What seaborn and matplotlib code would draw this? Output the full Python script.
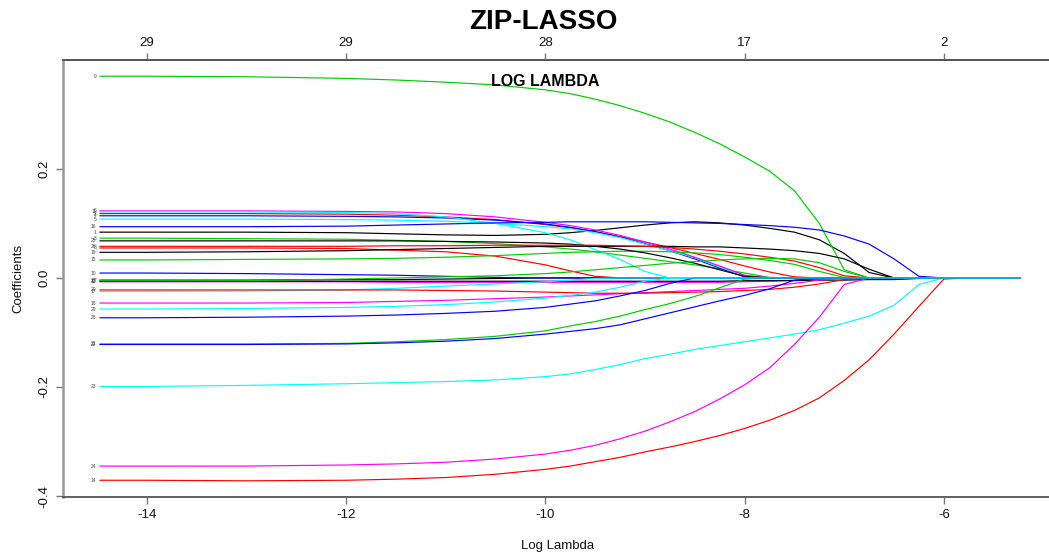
import matplotlib
matplotlib.use("Agg")
import matplotlib.pyplot as plt
import pandas as pd
import seaborn as sns

# Lasso path of the ZIP model: coefficients along the log(lambda) grid
log_lambda = [-14.47, -14.0, -13.0, -12.0, -11.5, -11.0, -10.5, -10.0, -9.75, -9.5,
              -9.25, -9.0, -8.75, -8.5, -8.25, -8.0, -7.75, -7.5, -7.25, -7.0,
              -6.75, -6.5, -6.25, -6.0, -5.75, -5.5, -5.24]

coef_01 = [0.084, 0.084, 0.084, 0.083, 0.081, 0.079, 0.078, 0.080, 0.083, 0.087, 0.092, 0.097, 0.101, 0.103, 0.101, 0.097, 0.091, 0.084, 0.070, 0.045, 0.010, 0, 0, 0, 0, 0, 0]
coef_02 = [0.118, 0.118, 0.118, 0.117, 0.115, 0.112, 0.107, 0.098, 0.092, 0.085, 0.076, 0.066, 0.056, 0.045, 0.034, 0.022, 0.011, 0.002, 0, 0, 0, 0, 0, 0, 0, 0, 0]
coef_03 = [0.073, 0.073, 0.072, 0.071, 0.069, 0.067, 0.063, 0.057, 0.053, 0.048, 0.042, 0.036, 0.030, 0.024, 0.017, 0.009, 0.001, 0, 0, 0, 0, 0, 0, 0, 0, 0, 0]
coef_04 = [0.114, 0.114, 0.114, 0.113, 0.112, 0.110, 0.106, 0.099, 0.093, 0.085, 0.075, 0.063, 0.050, 0.035, 0.018, 0.002, 0, 0, 0, 0, 0, 0, 0, 0, 0, 0, 0]
coef_05 = [0.108, 0.108, 0.108, 0.107, 0.106, 0.104, 0.100, 0.094, 0.090, 0.083, 0.074, 0.062, 0.050, 0.037, 0.020, 0.004, 0, 0, 0, 0, 0, 0, 0, 0, 0, 0, 0]
coef_06 = [0.123, 0.123, 0.123, 0.122, 0.121, 0.118, 0.112, 0.102, 0.096, 0.088, 0.078, 0.066, 0.053, 0.038, 0.022, 0.005, 0, 0, 0, 0, 0, 0, 0, 0, 0, 0, 0]
coef_07 = [-0.004, -0.004, -0.004, -0.003, -0.003, -0.002, -0.001, 0, 0, 0, 0, 0, 0, 0, 0, 0, 0, 0, 0, 0, 0, 0, 0, 0, 0, 0, 0]
coef_08 = [0.055, 0.055, 0.055, 0.054, 0.051, 0.048, 0.040, 0.024, 0.013, 0.003, 0, 0, 0, 0, 0, 0, 0, 0, 0, 0, 0, 0, 0, 0, 0, 0, 0]
coef_09 = [0.370, 0.370, 0.369, 0.366, 0.363, 0.359, 0.354, 0.345, 0.338, 0.328, 0.316, 0.302, 0.286, 0.267, 0.246, 0.222, 0.196, 0.160, 0.100, 0.015, 0, 0, 0, 0, 0, 0, 0]
coef_10 = [0.009, 0.009, 0.008, 0.006, 0.005, 0.003, 0.001, 0, 0, 0, 0, 0, 0, 0, 0, 0, 0, 0, 0, 0, 0, 0, 0, 0, 0, 0, 0]
coef_11 = [0.121, 0.121, 0.121, 0.120, 0.118, 0.112, 0.100, 0.083, 0.070, 0.052, 0.034, 0.012, 0, 0, 0, 0, 0, 0, 0, 0, 0, 0, 0, 0, 0, 0, 0]
coef_12 = [-0.007, -0.007, -0.007, -0.007, -0.008, -0.008, -0.008, -0.008, -0.008, -0.008, -0.008, -0.008, -0.008, -0.008, -0.008, -0.007, -0.006, -0.004, -0.002, 0, 0, 0, 0, 0, 0, 0, 0]
coef_13 = [-0.006, -0.006, -0.006, -0.006, -0.006, -0.006, -0.006, -0.006, -0.006, -0.006, -0.006, -0.006, -0.006, -0.006, -0.006, -0.005, -0.005, -0.005, -0.004, -0.004, -0.003, -0.003, -0.001, 0, 0, 0, 0]
coef_14 = [-0.371, -0.371, -0.372, -0.371, -0.369, -0.366, -0.360, -0.351, -0.345, -0.337, -0.329, -0.319, -0.310, -0.300, -0.289, -0.276, -0.261, -0.243, -0.220, -0.188, -0.150, -0.103, -0.052, -0.002, 0, 0, 0]
coef_15 = [0.033, 0.033, 0.034, 0.035, 0.036, 0.038, 0.041, 0.045, 0.047, 0.048, 0.049, 0.049, 0.048, 0.046, 0.043, 0.038, 0.032, 0.025, 0.012, 0.001, 0, 0, 0, 0, 0, 0, 0]
coef_16 = [0.094, 0.094, 0.094, 0.095, 0.097, 0.099, 0.101, 0.102, 0.103, 0.103, 0.103, 0.103, 0.102, 0.101, 0.100, 0.098, 0.096, 0.093, 0.088, 0.077, 0.062, 0.035, 0.003, 0, 0, 0, 0]
coef_17 = [-0.0245, -0.0245, -0.024, -0.022, -0.019, -0.015, -0.011, -0.007, -0.004, -0.001, 0, 0, 0, 0, 0, 0, 0, 0, 0, 0, 0, 0, 0, 0, 0, 0, 0]
coef_18 = [-0.046, -0.046, -0.046, -0.045, -0.043, -0.041, -0.038, -0.035, -0.033, -0.031, -0.029, -0.027, -0.025, -0.023, -0.021, -0.019, -0.015, -0.010, -0.004, 0, 0, 0, 0, 0, 0, 0, 0]
coef_19 = [0.047, 0.047, 0.048, 0.050, 0.052, 0.054, 0.056, 0.058, 0.058, 0.058, 0.058, 0.058, 0.058, 0.057, 0.057, 0.055, 0.053, 0.050, 0.045, 0.035, 0.016, 0, 0, 0, 0, 0, 0]
coef_20 = [-0.022, -0.022, -0.022, -0.022, -0.022, -0.023, -0.024, -0.026, -0.027, -0.028, -0.028, -0.028, -0.027, -0.026, -0.025, -0.023, -0.021, -0.017, -0.011, -0.003, 0, 0, 0, 0, 0, 0, 0]
coef_21 = [-0.121, -0.121, -0.121, -0.120, -0.117, -0.113, -0.107, -0.097, -0.088, -0.080, -0.070, -0.058, -0.047, -0.034, -0.018, -0.002, 0, 0, 0, 0, 0, 0, 0, 0, 0, 0, 0]
coef_22 = [-0.122, -0.122, -0.122, -0.121, -0.119, -0.116, -0.111, -0.103, -0.098, -0.093, -0.086, -0.075, -0.064, -0.053, -0.042, -0.032, -0.020, -0.004, 0, 0, 0, 0, 0, 0, 0, 0, 0]
coef_23 = [-0.199, -0.199, -0.197, -0.194, -0.192, -0.190, -0.187, -0.181, -0.176, -0.168, -0.159, -0.148, -0.140, -0.131, -0.124, -0.117, -0.110, -0.103, -0.095, -0.083, -0.070, -0.050, -0.012, 0, 0, 0, 0]
coef_24 = [-0.345, -0.345, -0.345, -0.343, -0.341, -0.338, -0.332, -0.323, -0.316, -0.307, -0.295, -0.281, -0.264, -0.245, -0.222, -0.196, -0.165, -0.122, -0.072, -0.012, 0, 0, 0, 0, 0, 0, 0]
coef_25 = [0.068, 0.068, 0.068, 0.068, 0.068, 0.067, 0.066, 0.064, 0.062, 0.058, 0.053, 0.046, 0.037, 0.027, 0.015, 0.003, 0, 0, 0, 0, 0, 0, 0, 0, 0, 0, 0]
coef_26 = [0.058, 0.058, 0.058, 0.058, 0.059, 0.059, 0.060, 0.060, 0.060, 0.060, 0.059, 0.058, 0.056, 0.053, 0.049, 0.044, 0.038, 0.031, 0.019, 0.004, 0, 0, 0, 0, 0, 0, 0]
coef_27 = [-0.005, -0.005, -0.005, -0.002, 0.000, 0.002, 0.004, 0.008, 0.011, 0.015, 0.019, 0.023, 0.027, 0.030, 0.033, 0.035, 0.036, 0.035, 0.028, 0.012, 0, 0, 0, 0, 0, 0, 0]
coef_28 = [-0.073, -0.073, -0.072, -0.070, -0.068, -0.065, -0.061, -0.054, -0.048, -0.042, -0.033, -0.023, -0.010, 0, 0, 0, 0, 0, 0, 0, 0, 0, 0, 0, 0, 0, 0]
coef_29 = [-0.057, -0.057, -0.056, -0.054, -0.052, -0.049, -0.044, -0.037, -0.032, -0.026, -0.017, -0.006, 0, 0, 0, 0, 0, 0, 0, 0, 0, 0, 0, 0, 0, 0, 0]

# bottom axis ticks and the number of nonzero coefficients shown on top
lambda_ticks = [-14, -12, -10, -8, -6]
lambda_tick_labels = ["-14", "-12", "-10", "-8", "-6"]
nonzero_counts = ["29", "29", "28", "17", "2"]
coef_ticks = [-0.4, -0.2, 0.0, 0.2]
coef_tick_labels = ["-0.4", "-0.2", "0.0", "0.2"]

paths = [coef_01, coef_02, coef_03, coef_04, coef_05, coef_06, coef_07, coef_08,
         coef_09, coef_10, coef_11, coef_12, coef_13, coef_14, coef_15, coef_16,
         coef_17, coef_18, coef_19, coef_20, coef_21, coef_22, coef_23, coef_24,
         coef_25, coef_26, coef_27, coef_28, coef_29]

# classic R palette cycled over the variables (col = 1:6)
r_palette = ["#000000", "#FF0000", "#00CD00", "#0000FF", "#00FFFF", "#FF00FF"]
var_names = [str(i) for i in range(1, len(paths) + 1)]
colors = {name: r_palette[i % 6] for i, name in enumerate(var_names)}

df = pd.concat(
    [pd.DataFrame({"log_lambda": log_lambda, "coef": vals, "var": name})
     for name, vals in zip(var_names, paths)],
    ignore_index=True,
)

sns.set_style("white")
plt.rcParams["font.family"] = ["Liberation Sans", "DejaVu Sans"]
plt.rcParams["axes.unicode_minus"] = False

W, H = 1049, 554
fig = plt.figure(figsize=(W / 100, H / 100), dpi=100)
ax = fig.add_axes([63 / W, 1 - 497 / H, 1 - 63 / W, (497 - 60) / H])

sns.lineplot(data=df, x="log_lambda", y="coef", hue="var", hue_order=var_names,
             palette=colors, estimator=None, sort=False, legend=False,
             linewidth=0.85, ax=ax)

# variable index next to the start of each path
for name, vals in zip(var_names, paths):
    ax.annotate(name, (log_lambda[0], vals[0]), xytext=(-2.5, 0),
                textcoords="offset points", ha="right", va="center",
                fontsize=3.5, color="#444444")

ax.set_xlim(-14.84, -4.945)
ax.set_ylim(-0.4017, 0.3997)
ax.set_xticks(lambda_ticks)
ax.set_xticklabels(lambda_tick_labels)
ax.set_yticks(coef_ticks)
ax.set_yticklabels(coef_tick_labels, rotation=90, va="center")
ax.set_xlabel("")
ax.set_ylabel("")

for side in ("top", "bottom"):
    ax.spines[side].set_color("#555555")
    ax.spines[side].set_linewidth(1.3)
ax.spines["left"].set_color("#999999")
ax.spines["left"].set_linewidth(1.8)
ax.spines["right"].set_visible(False)

ax.tick_params(axis="both", direction="out", length=5, width=1, color="#777777",
               labelsize=9.5, labelcolor="#111111", pad=4)
ax.tick_params(axis="x", bottom=True)
ax.tick_params(axis="y", left=True)

top = ax.secondary_xaxis("top")
top.set_xticks(lambda_ticks)
top.set_xticklabels(nonzero_counts)
top.tick_params(direction="out", length=5, width=1, color="#777777",
                labelsize=9.5, labelcolor="#111111", pad=3)
top.spines["top"].set_color("#555555")
top.spines["top"].set_linewidth(1.3)

fig.text(543 / W, 1 - 22 / H, "ZIP-LASSO", ha="center", va="center",
         fontsize=20, fontweight="bold", color="black")
fig.text(545 / W, 1 - 81 / H, "LOG LAMBDA", ha="center", va="center",
         fontsize=11.5, fontweight="bold", color="black")
fig.text(558 / W, 1 - 546 / H, "Log Lambda", ha="center", va="center",
         fontsize=9.5, color="#111111")
fig.text(18 / W, 1 - 278 / H, "Coefficients", ha="center", va="center",
         rotation=90, fontsize=9.5, color="#111111")

fig.savefig("out.png", dpi=100, facecolor="white")
